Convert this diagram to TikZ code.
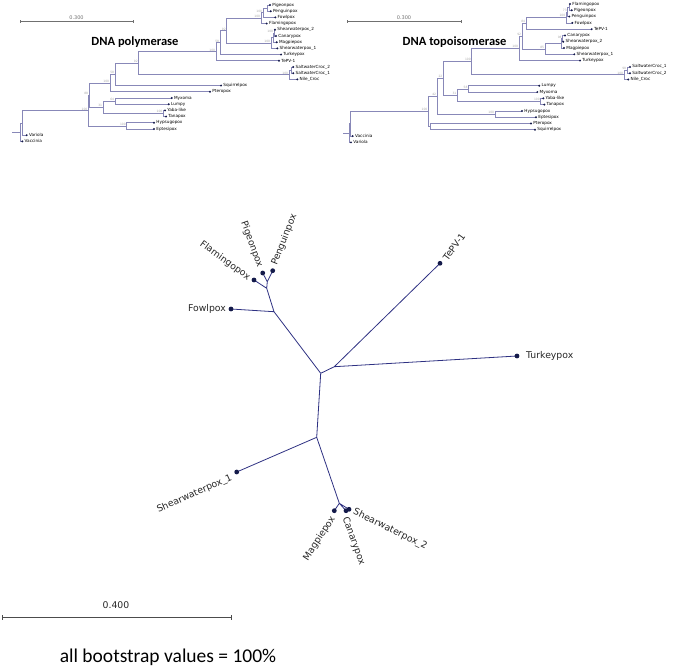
\documentclass[tikz,border=0pt]{standalone}
\usepackage{fontspec}
\setmainfont{DejaVu Sans}
\newfontfamily\carlito{Carlito}
\usetikzlibrary{calc}
\pgfdeclarelayer{bg}
\pgfsetlayers{bg,main}
\definecolor{brc}{HTML}{8888B8}
\definecolor{dotc}{HTML}{141A4A}
\definecolor{bsc}{HTML}{A8A8A8}
\definecolor{sbc}{HTML}{707070}
\definecolor{unc}{HTML}{2E3182}
\tikzset{
 br/.style={draw=brc, line width=0.6pt},
 tlbl/.style={font=\fontsize{4.2}{5}\selectfont, inner sep=0pt, anchor=west, text=black},
 bs/.style={font=\fontsize{3}{3.5}\selectfont, text=bsc, inner sep=0.3pt, anchor=south east},
 sbar/.style={draw=sbc, line width=0.6pt},
 sblbl/.style={font=\fontsize{5}{6}\selectfont, text=sbc, inner sep=0pt},
 title/.style={font=\carlito\bfseries\fontsize{12.5}{14}\selectfont, inner sep=0pt},
 ubr/.style={draw=unc, line width=0.8pt},
 udot/.style={fill=dotc, draw=none, circle, minimum size=4.8pt, inner sep=0pt},
 ulbl/.style={font=\fontsize{9.3}{11}\selectfont, inner sep=0pt, text=black!85},
}
\newcommand\tleaf[4]{\coordinate (#1) at (#2,#3); \fill[dotc] (#1) circle (1.1pt); \node[tlbl] (#1-l) at ([xshift=2.2pt]#1) {#4};}
\newcommand\tnode[4]{\begin{pgfonlayer}{bg}\path let \p1=($(#3)!0.5!(#4)$) in (#2pt,\y1) coordinate (#1); \draw[br] (#3) -- (#3 -| #1) -- (#4 -| #1) -- (#4);\end{pgfonlayer}}
\newcommand\bsl[2]{\node[bs] (#1-bs) at ([xshift=-0.4pt]#1) {#2};}
\begin{document}
\begin{tikzpicture}[x=1pt,y=-1pt]
\useasboundingbox (0,0) rectangle (676,668);
% ---------------- DNA polymerase ----------------
\coordinate (asb1) at (20,21.3); \coordinate (asb2) at (133,21.3);
\draw[sbar] ([yshift=-1.5pt]asb1) -- ([yshift=1.5pt]asb1) (asb1) -- (asb2) ([yshift=-1.5pt]asb2) -- ([yshift=1.5pt]asb2);
\node[sblbl] (asbl) at (76.5,17.3) {0.300};
\node[title] (atitle) at (135,42) {DNA polymerase};
\tleaf{aPigeon}{270}{5}{Pigeonpox}
\tleaf{aPenguin}{270.7}{11.2}{Penguinpox}
\tleaf{aFowl}{275.3}{17.4}{Fowlpox}
\tleaf{aFlamingo}{266.7}{23.6}{Flamingopox}
\tleaf{aSWb}{275}{29.8}{Shearwaterpox\_2}
\tleaf{aCanary}{276}{36}{Canarypox}
\tleaf{aMagpie}{276.7}{42.2}{Magpiepox}
\tleaf{aSWa}{277.3}{48.4}{Shearwaterpox\_1}
\tleaf{aTurkey}{281}{54.6}{Turkeypox}
\tleaf{aTePV}{279}{60.8}{TePV-1}
\tleaf{aSCb}{293.3}{67}{SaltwaterCroc\_2}
\tleaf{aSCa}{293.3}{73.2}{SaltwaterCroc\_1}
\tleaf{aNile}{297.3}{79.4}{Nile\_Croc}
\tleaf{aSquirrel}{221}{85.6}{Squirrelpox}
\tleaf{aPtero}{210}{91.8}{Pteropox}
\tleaf{aMyxoma}{171.7}{98}{Myxoma}
\tleaf{aLumpy}{168.7}{104.2}{Lumpy}
\tleaf{aYaba}{165}{110.4}{Yaba-like}
\tleaf{aTana}{166}{116.6}{Tanapox}
\tleaf{aHyps}{154}{122.8}{Hypsugopox}
\tleaf{aEpt}{154}{129}{Eptesipox}
\tleaf{aVariola}{26.7}{135.2}{Variola}
\tleaf{aVaccinia}{22.3}{141.4}{Vaccinia}
\tnode{aPa}{267.3}{aPigeon}{aPenguin}
\tnode{aPb}{263}{aPa}{aFowl}
\tnode{aPc}{261}{aPb}{aFlamingo}
\tnode{aSa}{274}{aSWb}{aCanary}
\tnode{aSb}{273}{aSa}{aMagpie}
\tnode{aSc}{271}{aSb}{aSWa}
\tnode{aBc}{226.7}{aPc}{aSc}
\tnode{aBb}{220}{aBc}{aTurkey}
\tnode{aBa}{216}{aBb}{aTePV}
\tnode{aCa}{291.7}{aSCb}{aSCa}
\tnode{aCb}{289}{aCa}{aNile}
\tnode{aNe}{138.7}{aBa}{aCb}
\tnode{aNd}{115}{aNe}{aSquirrel}
\tnode{aNc}{110}{aNd}{aPtero}
\tnode{aML}{115}{aMyxoma}{aLumpy}
\tnode{aYT}{163.3}{aYaba}{aTana}
\tnode{aMLYT}{103}{aML}{aYT}
\tnode{aNb}{89}{aNc}{aMLYT}
\tnode{aHE}{126.7}{aHyps}{aEpt}
\tnode{aNa}{88.3}{aNb}{aHE}
\tnode{aRa}{22}{aNa}{aVariola}
\tnode{aRo}{20.7}{aRa}{aVaccinia}
\coordinate (aStub) at (12,132);
\draw[br] (aStub |- aRo) -- (aRo);
\bsl{aPb}{100}\bsl{aPc}{100}\bsl{aSa}{100}\bsl{aSc}{100}
\bsl{aBc}{92}\bsl{aBb}{58}\bsl{aBa}{100}\bsl{aCb}{100}\bsl{aNe}{92}
\bsl{aNd}{58}\bsl{aNc}{100}\bsl{aML}{64}\bsl{aYT}{100}\bsl{aMLYT}{31}\bsl{aNb}{88}
\bsl{aHE}{100}\bsl{aNa}{100}
% ---------------- DNA topoisomerase ----------------
\coordinate (bsb1) at (347.3,21.3); \coordinate (bsb2) at (461.7,21.3);
\draw[sbar] ([yshift=-1.5pt]bsb1) -- ([yshift=1.5pt]bsb1) (bsb1) -- (bsb2) ([yshift=-1.5pt]bsb2) -- ([yshift=1.5pt]bsb2);
\node[sblbl] (bsbl) at (404,17.3) {0.300};
\node[title] (btitle) at (454.6,42) {DNA topoisomerase};
\tleaf{bFlamingo}{570}{4}{Flamingopox}
\tleaf{bPigeon}{571.7}{10.29}{Pigeonpox}
\tleaf{bPenguin}{569.3}{16.58}{Penguinpox}
\tleaf{bFowl}{572.3}{22.87}{Fowlpox}
\tleaf{bTePV}{591.7}{29.16}{TePV-1}
\tleaf{bCanary}{565}{35.45}{Canarypox}
\tleaf{bSWb}{563.3}{41.74}{Shearwaterpox\_2}
\tleaf{bMagpie}{564}{48.03}{Magpiepox}
\tleaf{bSWa}{574.3}{54.32}{Shearwaterpox\_1}
\tleaf{bTurkey}{580}{60.61}{Turkeypox}
\tleaf{bSCa}{630}{66.9}{SaltwaterCroc\_1}
\tleaf{bSCb}{630}{73.19}{SaltwaterCroc\_2}
\tleaf{bNile}{628.3}{79.48}{Nile\_Croc}
\tleaf{bLumpy}{539.3}{85.77}{Lumpy}
\tleaf{bMyxoma}{537.3}{92.06}{Myxoma}
\tleaf{bYaba}{543.3}{98.35}{Yaba-like}
\tleaf{bTana}{544.3}{104.64}{Tanapox}
\tleaf{bHyps}{522}{110.93}{Hypsugopox}
\tleaf{bEpt}{536}{117.22}{Eptesipox}
\tleaf{bPtero}{531}{123.51}{Pteropox}
\tleaf{bSquirrel}{535}{129.8}{Squirrelpox}
\tleaf{bVaccinia}{352.7}{136.09}{Vaccinia}
\tleaf{bVariola}{351}{142.38}{Variola}
\tnode{bPa}{568.8}{bFlamingo}{bPigeon}
\tnode{bPb}{567.6}{bPa}{bPenguin}
\tnode{bPc}{566.2}{bPb}{bFowl}
\tnode{bPd}{526}{bPc}{bTePV}
\tnode{bCa}{562.5}{bCanary}{bSWb}
\tnode{bCb}{561}{bCa}{bMagpie}
\tnode{bCc}{545}{bCb}{bSWa}
\tnode{bBb}{522}{bPd}{bCc}
\tnode{bBirds}{519}{bBb}{bTurkey}
\tnode{bSC}{627}{bSCa}{bSCb}
\tnode{bCroc}{624}{bSC}{bNile}
\tnode{bA}{471.7}{bBirds}{bCroc}
\tnode{bLM}{468.3}{bLumpy}{bMyxoma}
\tnode{bYT}{540.7}{bYaba}{bTana}
\tnode{bLMYT}{457.3}{bLM}{bYT}
\tnode{bQc}{443.3}{bA}{bLMYT}
\tnode{bHE}{495}{bHyps}{bEpt}
\tnode{bQa}{437}{bQc}{bHE}
\tnode{bPS}{430}{bPtero}{bSquirrel}
\tnode{bTm}{428.3}{bQa}{bPS}
\tnode{bRa}{350.7}{bTm}{bVaccinia}
\tnode{bRo}{349.3}{bRa}{bVariola}
\coordinate (bStub) at (343.3,134);
\draw[br] (bStub |- bRo) -- (bRo);
\bsl{bPb}{73}\bsl{bPc}{100}\bsl{bPd}{84}\bsl{bCa}{98}
\bsl{bCc}{85}\bsl{bBb}{92}\bsl{bBirds}{100}\bsl{bSC}{98}\bsl{bCroc}{100}\bsl{bA}{100}
\bsl{bLM}{58}\bsl{bYT}{100}\bsl{bLMYT}{31}\bsl{bHE}{100}\bsl{bQc}{22}\bsl{bQa}{42}
\bsl{bTm}{100}
% ---------------- unrooted tree ----------------
\coordinate (uCa) at (320.7,373.3);
\coordinate (uCb) at (334.3,366.7);
\coordinate (uCc) at (316.7,437.3);
\coordinate (uFa) at (274,311.7);
\coordinate (uFb) at (266.7,288.3);
\coordinate (uFc) at (267.3,281.7);
\coordinate (uMa) at (339.3,503.3);
\node[udot] (uTePV) at (440,263.3) {};
\node[udot] (uTurkey) at (517,356) {};
\node[udot] (uFowl) at (231,309) {};
\node[udot] (uFlamingo) at (254,280) {};
\node[udot] (uPigeon) at (262.7,273) {};
\node[udot] (uPenguin) at (272.7,270.7) {};
\node[udot] (uSWa) at (236.7,472) {};
\node[udot] (uMagpie) at (334.3,510.7) {};
\node[udot] (uCanary) at (346,510.7) {};
\node[udot] (uSWb) at (349,509.3) {};
\begin{pgfonlayer}{bg}
\draw[ubr] (uCa) -- (uCb) (uCb) -- (uTePV.center) (uCb) -- (uTurkey.center);
\draw[ubr] (uCa) -- (uFa) (uFa) -- (uFowl.center) (uFa) -- (uFb) (uFb) -- (uFlamingo.center) (uFb) -- (uFc) (uFc) -- (uPigeon.center) (uFc) -- (uPenguin.center);
\draw[ubr] (uCa) -- (uCc) (uCc) -- (uSWa.center) (uCc) -- (uMa) (uMa) -- (uMagpie.center) (uMa) -- (uCanary.center) (uMa) -- (uSWb.center);
\end{pgfonlayer}
\node[ulbl, anchor=east] (lFowl) at ([xshift=-5pt]uFowl.center) {Fowlpox};
\node[ulbl, anchor=east, rotate=-36] (lFlamingo) at ([shift={(-4.7,-1.7)}]uFlamingo.center) {Flamingopox};
\node[ulbl, anchor=east, rotate=-70] (lPigeon) at ([shift={(-2.6,-5.7)}]uPigeon.center) {Pigeonpox};
\node[ulbl, anchor=west, rotate=68.5] (lPenguin) at ([shift={(1.6,-5.7)}]uPenguin.center) {Penguinpox};
\node[ulbl, anchor=west, rotate=54] (lTePV) at ([shift={(5,-4)}]uTePV.center) {TePV-1};
\node[ulbl, anchor=west] (lTurkey) at ([xshift=9pt]uTurkey.center) {Turkeypox};
\node[ulbl, anchor=east, rotate=24] (lSWa) at ([shift={(-5,5.3)}]uSWa.center) {Shearwaterpox\_1};
\node[ulbl, anchor=east, rotate=57] (lMagpie) at ([shift={(-1,6.6)}]uMagpie.center) {Magpiepox};
\node[ulbl, anchor=west, rotate=-70] (lCanary) at ([shift={(-1,6.6)}]uCanary.center) {Canarypox};
\node[ulbl, anchor=west, rotate=-26] (lSWb) at ([shift={(4.6,2.4)}]uSWb.center) {Shearwaterpox\_2};
% scale bar and note
\coordinate (csb1) at (2,617); \coordinate (csb2) at (231,617);
\draw[draw=black!70, line width=0.7pt] ([yshift=-2.5pt]csb1) -- ([yshift=2.5pt]csb1) (csb1) -- (csb2) ([yshift=-2.5pt]csb2) -- ([yshift=2.5pt]csb2);
\node[ulbl] (csbl) at (116,605) {0.400};
\node[font=\carlito\fontsize{19.5}{22}\selectfont, inner sep=0pt] (note) at (168,657) {all bootstrap values = 100\%};
\end{tikzpicture}
\end{document}
